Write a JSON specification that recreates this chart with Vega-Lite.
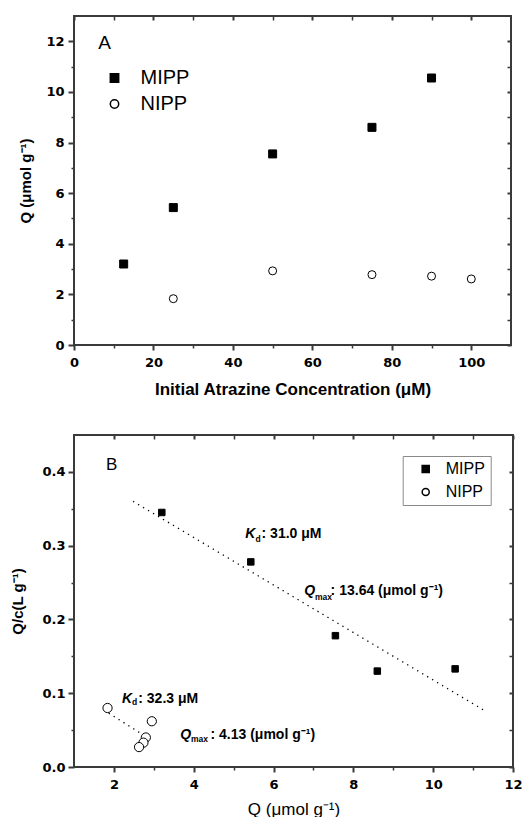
{
  "$schema": "https://vega.github.io/schema/vega-lite/v6.json",
  "padding": {"left": 9, "top": 14, "right": 0, "bottom": 0},
  "spacing": 35,
  "resolve": {
    "scale": {"shape": "independent", "fill": "independent"},
    "legend": {"shape": "independent", "fill": "independent"}
  },
  "config": {
    "view": {"stroke": "#3a3a3a", "strokeWidth": 2},
    "font": "Liberation Sans",
    "axis": {
      "grid": false,
      "domain": false,
      "tickColor": "#3a3a3a",
      "labelFont": "DejaVu Sans",
      "labelFontWeight": "bold",
      "labelFontSize": 13,
      "labelColor": "black",
      "labelFlush": false,
      "labelOverlap": false,
      "titleFont": "Liberation Sans",
      "titleFontWeight": "bold",
      "titleColor": "black"
    },
    "legend": {"labelFont": "Liberation Sans", "labelColor": "black"}
  },
  "datasets": {
    "top": [
      {"c": 12.5, "Q": 3.2, "s": "MIPP"},
      {"c": 25, "Q": 5.43, "s": "MIPP"},
      {"c": 50, "Q": 7.55, "s": "MIPP"},
      {"c": 75, "Q": 8.6, "s": "MIPP"},
      {"c": 90, "Q": 10.55, "s": "MIPP"},
      {"c": 25, "Q": 1.83, "s": "NIPP"},
      {"c": 50, "Q": 2.93, "s": "NIPP"},
      {"c": 75, "Q": 2.78, "s": "NIPP"},
      {"c": 90, "Q": 2.72, "s": "NIPP"},
      {"c": 100, "Q": 2.61, "s": "NIPP"}
    ],
    "scat": [
      {"Q": 3.2, "Qc": 0.345, "s": "MIPP"},
      {"Q": 5.43, "Qc": 0.278, "s": "MIPP"},
      {"Q": 7.55, "Qc": 0.178, "s": "MIPP"},
      {"Q": 8.6, "Qc": 0.13, "s": "MIPP"},
      {"Q": 10.55, "Qc": 0.133, "s": "MIPP"},
      {"Q": 1.84, "Qc": 0.08, "s": "NIPP"},
      {"Q": 2.95, "Qc": 0.062, "s": "NIPP"},
      {"Q": 2.8, "Qc": 0.04, "s": "NIPP"},
      {"Q": 2.74, "Qc": 0.033, "s": "NIPP"},
      {"Q": 2.63, "Qc": 0.027, "s": "NIPP"}
    ],
    "ann": [
      {"p": "v", "x": 5.29, "y": 0.3103, "t": "K"},
      {"p": "s", "x": 5.55, "y": 0.305, "t": "d"},
      {"p": "r", "x": 5.7, "y": 0.3103, "t": ": 31.0 μM"},
      {"p": "v", "x": 6.77, "y": 0.2333, "t": "Q"},
      {"p": "s", "x": 7.04, "y": 0.2265, "t": "max"},
      {"p": "r", "x": 7.43, "y": 0.2333, "t": ": 13.64 (μmol g⁻¹)"},
      {"p": "v", "x": 2.2, "y": 0.087, "t": "K"},
      {"p": "s", "x": 2.455, "y": 0.0835, "t": "d"},
      {"p": "r", "x": 2.61, "y": 0.087, "t": ": 32.3 μM"},
      {"p": "v", "x": 3.66, "y": 0.0376, "t": "Q"},
      {"p": "s", "x": 3.93, "y": 0.034, "t": "max"},
      {"p": "r", "x": 4.42, "y": 0.0376, "t": ": 4.13 (μmol g⁻¹)"}
    ]
  },
  "vconcat": [
    {
      "width": 437,
      "height": 329,
      "resolve": {"axis": {"x": "independent", "y": "independent"}},
      "layer": [
        {
          "data": {"name": "top"},
          "mark": {"type": "point", "filled": true, "stroke": "black", "strokeWidth": 1, "size": 64, "opacity": 1},
          "encoding": {
            "x": {"field": "c", "type": "quantitative", "scale": {"domain": [0, 110], "nice": false, "zero": false},
              "axis": {"orient": "bottom", "values": [0, 10, 20, 30, 40, 50, 60, 70, 80, 90, 100],
                "labelExpr": "datum.value % 20 === 0 ? datum.label : ''",
                "tickSize": {"condition": {"test": "datum.value % 20 === 0", "value": 5}, "value": 3},
                "tickWidth": {"condition": {"test": "datum.value % 20 === 0", "value": 2}, "value": 1.5},
                "labelPadding": 6,
                "title": "Initial Atrazine Concentration (μM)", "titleFontSize": 17, "titlePadding": 12}},
            "y": {"field": "Q", "type": "quantitative", "scale": {"domain": [0, 13], "nice": false, "zero": false},
              "axis": {"orient": "left", "values": [0, 1, 2, 3, 4, 5, 6, 7, 8, 9, 10, 11, 12],
                "labelExpr": "datum.value % 2 === 0 ? datum.label : ''",
                "tickSize": {"condition": {"test": "datum.value % 2 === 0", "value": 6}, "value": 3},
                "tickWidth": {"condition": {"test": "datum.value % 2 === 0", "value": 2}, "value": 1.5},
                "labelPadding": 4,
                "title": "Q (μmol g⁻¹)", "titleFontSize": 15, "titlePadding": 12}},
            "shape": {"field": "s", "type": "nominal", "scale": {"domain": ["MIPP", "NIPP"], "range": ["square", "circle"]},
              "legend": {"title": null, "orient": "none", "legendX": 30.5, "legendY": 52, "padding": 0, "symbolSize": 70,
                "labelFontSize": 20, "labelOffset": 16, "rowPadding": 6,
                "encode": {"symbols": {"update": {"stroke": {"value": "black"}, "strokeWidth": {"value": 1}}}}}},
            "fill": {"field": "s", "type": "nominal", "scale": {"domain": ["MIPP", "NIPP"], "range": ["black", "white"]},
              "legend": {"title": null, "orient": "none", "legendX": 30.5, "legendY": 52, "padding": 0, "symbolSize": 70,
                "labelFontSize": 20, "labelOffset": 16, "rowPadding": 6,
                "encode": {"symbols": {"update": {"stroke": {"value": "black"}, "strokeWidth": {"value": 1}}}}}}
          }
        },
        {
          "data": {"values": [{"x": 6.1, "y": 11.71, "t": "A"}]},
          "mark": {"type": "text", "align": "left", "baseline": "alphabetic", "fontSize": 19, "font": "Liberation Sans", "color": "black"},
          "encoding": {
            "x": {"field": "x", "type": "quantitative", "scale": {"domain": [0, 110], "nice": false, "zero": false},
              "axis": {"orient": "top", "values": [0, 10, 20, 30, 40, 50, 60, 70, 80, 90, 100], "offset": -4, "tickSize": 4,
                "tickWidth": {"condition": {"test": "datum.value % 20 === 0", "value": 2}, "value": 1.5},
                "labels": false, "title": null}},
            "y": {"field": "y", "type": "quantitative", "scale": {"domain": [0, 13], "nice": false, "zero": false},
              "axis": {"orient": "right", "values": [0, 1, 2, 3, 4, 5, 6, 7, 8, 9, 10, 11, 12], "offset": -4, "tickSize": 4,
                "tickWidth": {"condition": {"test": "datum.value % 2 === 0", "value": 2}, "value": 1.5},
                "labels": false, "title": null}},
            "text": {"field": "t"}
          }
        }
      ]
    },
    {
      "width": 439,
      "height": 332,
      "resolve": {"axis": {"x": "independent", "y": "independent"}},
      "layer": [
        {
          "data": {"name": "scat"},
          "mark": {"type": "point", "filled": true, "stroke": "black", "strokeWidth": 1, "size": 42, "opacity": 1},
          "encoding": {
            "x": {"field": "Q", "type": "quantitative", "scale": {"domain": [1, 12], "nice": false, "zero": false},
              "axis": {"orient": "bottom", "values": [2, 3, 4, 5, 6, 7, 8, 9, 10, 11, 12],
                "labelExpr": "datum.value % 2 === 0 ? datum.label : ''",
                "tickSize": {"condition": {"test": "datum.value % 2 === 0", "value": 5}, "value": 3},
                "tickWidth": {"condition": {"test": "datum.value % 2 === 0", "value": 2}, "value": 1.5},
                "labelPadding": 6,
                "title": "Q (μmol g⁻¹)", "titleFontSize": 17, "titleFontWeight": "normal", "titlePadding": 10}},
            "y": {"field": "Qc", "type": "quantitative", "scale": {"domain": [0, 0.45], "nice": false, "zero": false},
              "axis": {"orient": "left", "values": [0, 0.05, 0.1, 0.15, 0.2, 0.25, 0.3, 0.35, 0.4], "format": ".1f",
                "labelExpr": "round(datum.value * 100) % 10 === 0 ? datum.label : ''",
                "tickSize": {"condition": {"test": "round(datum.value * 100) % 10 === 0", "value": 6}, "value": 3},
                "tickWidth": {"condition": {"test": "round(datum.value * 100) % 10 === 0", "value": 2}, "value": 1.5},
                "labelPadding": 3,
                "title": "Q/c(L g⁻¹)", "titleFontSize": 15, "titlePadding": 16}},
            "shape": {"field": "s", "type": "nominal", "scale": {"domain": ["MIPP", "NIPP"], "range": ["square", "circle"]},
              "legend": {"title": null, "orient": "none", "legendX": 328.7, "legendY": 21, "padding": 5, "symbolOffset": 10, "symbolSize": 50,
                "labelFontSize": 16, "labelOffset": 12, "rowPadding": 7, "strokeColor": "#8a8a8a",
                "encode": {"symbols": {"update": {"stroke": {"value": "black"}, "strokeWidth": {"value": 1}}}}}},
            "fill": {"field": "s", "type": "nominal", "scale": {"domain": ["MIPP", "NIPP"], "range": ["black", "white"]},
              "legend": {"title": null, "orient": "none", "legendX": 328.7, "legendY": 21, "padding": 5, "symbolOffset": 10, "symbolSize": 50,
                "labelFontSize": 16, "labelOffset": 12, "rowPadding": 7, "strokeColor": "#8a8a8a",
                "encode": {"symbols": {"update": {"stroke": {"value": "black"}, "strokeWidth": {"value": 1}}}}}}
          }
        },
        {
          "data": {"values": [
            {"x": 2.48, "y": 0.36, "s": "MIPP"},
            {"x": 11.27, "y": 0.077, "s": "MIPP"},
            {"x": 1.87, "y": 0.073, "s": "NIPP"},
            {"x": 2.75, "y": 0.043, "s": "NIPP"}
          ]},
          "mark": {"type": "line", "color": "black", "strokeDash": [1.3, 4.5], "strokeWidth": 1.3},
          "encoding": {
            "x": {"field": "x", "type": "quantitative", "scale": {"domain": [1, 12], "nice": false, "zero": false},
              "axis": {"orient": "top", "values": [2, 3, 4, 5, 6, 7, 8, 9, 10, 11, 12], "offset": -4, "tickSize": 4,
                "tickWidth": {"condition": {"test": "datum.value % 2 === 0", "value": 2}, "value": 1.5},
                "labels": false, "title": null}},
            "y": {"field": "y", "type": "quantitative", "scale": {"domain": [0, 0.45], "nice": false, "zero": false},
              "axis": {"orient": "right", "values": [0, 0.05, 0.1, 0.15, 0.2, 0.25, 0.3, 0.35, 0.4], "offset": -4, "tickSize": 4,
                "tickWidth": {"condition": {"test": "round(datum.value * 100) % 10 === 0", "value": 2}, "value": 1.5},
                "labels": false, "title": null}},
            "detail": {"field": "s"}
          }
        },
        {
          "data": {"name": "scat"},
          "transform": [{"filter": "datum.s === 'NIPP'"}],
          "mark": {"type": "point", "shape": "circle", "filled": true, "fill": "white", "stroke": "black", "strokeWidth": 1, "size": 85, "opacity": 1},
          "encoding": {
            "x": {"field": "Q", "type": "quantitative", "scale": {"domain": [1, 12], "nice": false, "zero": false}, "axis": null},
            "y": {"field": "Qc", "type": "quantitative", "scale": {"domain": [0, 0.45], "nice": false, "zero": false}, "axis": null}
          }
        },
        {
          "data": {"name": "ann"},
          "transform": [{"filter": "datum.p === 'v'"}],
          "mark": {"type": "text", "align": "left", "baseline": "alphabetic", "fontSize": 14, "fontWeight": "bold", "fontStyle": "italic", "font": "Liberation Sans", "color": "black"},
          "encoding": {
            "x": {"field": "x", "type": "quantitative", "scale": {"domain": [1, 12], "nice": false, "zero": false}, "axis": null},
            "y": {"field": "y", "type": "quantitative", "scale": {"domain": [0, 0.45], "nice": false, "zero": false}, "axis": null},
            "text": {"field": "t"}
          }
        },
        {
          "data": {"name": "ann"},
          "transform": [{"filter": "datum.p === 's'"}],
          "mark": {"type": "text", "align": "left", "baseline": "alphabetic", "fontSize": 8.5, "fontWeight": "bold", "font": "Liberation Sans", "color": "black"},
          "encoding": {
            "x": {"field": "x", "type": "quantitative", "scale": {"domain": [1, 12], "nice": false, "zero": false}, "axis": null},
            "y": {"field": "y", "type": "quantitative", "scale": {"domain": [0, 0.45], "nice": false, "zero": false}, "axis": null},
            "text": {"field": "t"}
          }
        },
        {
          "data": {"name": "ann"},
          "transform": [{"filter": "datum.p === 'r'"}],
          "mark": {"type": "text", "align": "left", "baseline": "alphabetic", "fontSize": 14, "fontWeight": "bold", "font": "Liberation Sans", "color": "black"},
          "encoding": {
            "x": {"field": "x", "type": "quantitative", "scale": {"domain": [1, 12], "nice": false, "zero": false}, "axis": null},
            "y": {"field": "y", "type": "quantitative", "scale": {"domain": [0, 0.45], "nice": false, "zero": false}, "axis": null},
            "text": {"field": "t"}
          }
        },
        {
          "data": {"values": [{"x": 1.8, "y": 0.403, "t": "B"}]},
          "mark": {"type": "text", "align": "left", "baseline": "alphabetic", "fontSize": 17, "font": "Liberation Sans", "color": "black"},
          "encoding": {
            "x": {"field": "x", "type": "quantitative", "scale": {"domain": [1, 12], "nice": false, "zero": false}, "axis": null},
            "y": {"field": "y", "type": "quantitative", "scale": {"domain": [0, 0.45], "nice": false, "zero": false}, "axis": null},
            "text": {"field": "t"}
          }
        }
      ]
    }
  ]
}
